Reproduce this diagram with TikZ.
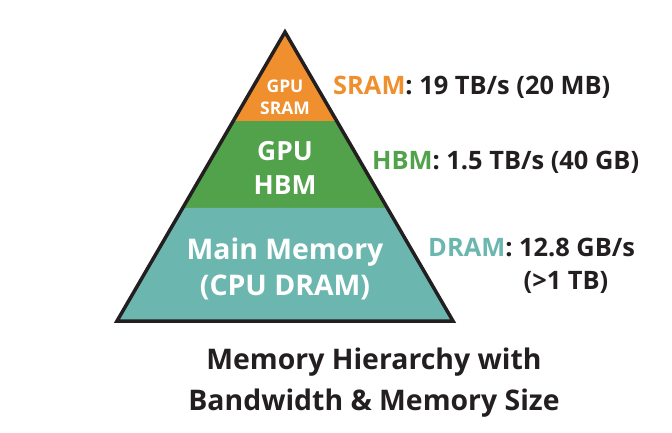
\documentclass[tikz,border=0pt]{standalone}
\usepackage{fontspec}
\setmainfont{Open Sans}
\usepackage{xcolor}
\usetikzlibrary{calc,positioning}

\definecolor{sramcol}{HTML}{EF8F2D}
\definecolor{hbmcol}{HTML}{52A14B}
\definecolor{dramcol}{HTML}{6BB7AF}
\definecolor{inkcol}{HTML}{231F20}

\begin{document}
\begin{tikzpicture}[x=1bp,y=-1bp,
    tiertext/.style={text=white,align=center,font=\bfseries,inner sep=0pt},
    speclabel/.style={text=inkcol,anchor=base west,inner sep=0pt,font=\bfseries\fontsize{25.5}{30}\selectfont}]
      \useasboundingbox (0,0) rectangle (672,433);

      % Pyramid corners
      \coordinate (apex) at (285,32);
      \coordinate (bl) at (117,321);
      \coordinate (br) at (453,321);
      \coordinate (l1) at ($(apex)!0.308!(bl)$);
      \coordinate (r1) at ($(apex)!0.308!(br)$);
      \coordinate (l2) at ($(apex)!0.609!(bl)$);
      \coordinate (r2) at ($(apex)!0.609!(br)$);

      % Pyramid tiers
      \fill[sramcol] (apex) -- (r1) -- (l1) -- cycle;
      \fill[hbmcol] (l1) -- (r1) -- (r2) -- (l2) -- cycle;
      \fill[dramcol] (l2) -- (r2) -- (br) -- (bl) -- cycle;
      \draw[inkcol,line width=3.5bp] (bl) -- (apex) -- (br) -- cycle;

      \node[tiertext,font=\bfseries\fontsize{17.5}{22}\selectfont] (sram) at (285,97) {GPU\\SRAM};
      \node[tiertext,font=\bfseries\fontsize{26.5}{35}\selectfont] (hbm) at (285,168) {GPU\\HBM};
      \node[tiertext,font=\bfseries\fontsize{28.5}{36}\selectfont] (dram) at (285,269) {Main Memory\\(CPU DRAM)};

      % Bandwidth labels
      \node[speclabel] (sramlbl) at (333,95) {\textcolor{sramcol}{SRAM}: 19 TB/s (20 MB)};
      \node[speclabel] (hbmlbl) at (372,170) {\textcolor{hbmcol}{HBM}: 1.5 TB/s (40 GB)};
      \node[speclabel] (dramlbl) at (428,257) {\textcolor{dramcol}{DRAM}: 12.8 GB/s};
      \node[speclabel,anchor=base] (dramsize) at (566,290) {(>1 TB)};

      % Caption
      \node[text=inkcol,align=center,inner sep=0pt,font=\bfseries\fontsize{28.5}{41}\selectfont] (caption) at (374,383) {Memory Hierarchy with\\Bandwidth \& Memory Size};
    \end{tikzpicture}
\end{document}
